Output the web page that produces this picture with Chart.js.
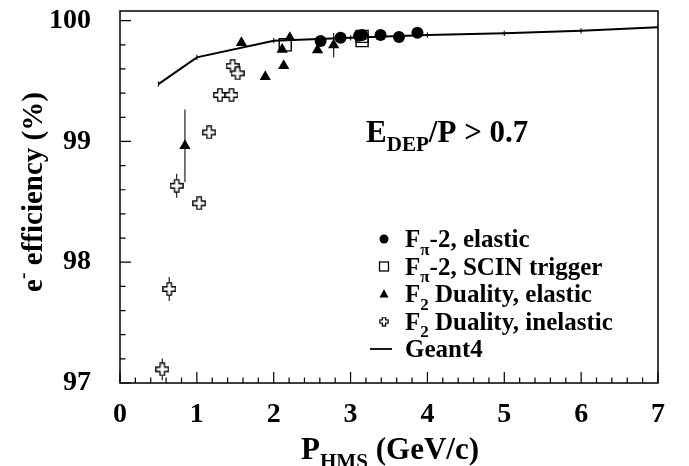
<!DOCTYPE html>
<html>
<head>
<meta charset="utf-8">
<script src="https://cdn.jsdelivr.net/npm/chart.js@4.4.1/dist/chart.umd.min.js"></script>
<style>
  html, body { margin: 0; padding: 0; background: #fff; }
  #wrap { width: 689px; height: 466px; }
</style>
</head>
<body>
<div id="wrap"><canvas id="effChart" width="689" height="466"></canvas></div>
<script>
// axis ticks
const xTicks = [0, 1, 2, 3, 4, 5, 6, 7];
const yTicks = [97, 98, 99, 100];

// Geant4 simulation
const geantP = [0.5, 1, 2, 3, 4, 5, 6, 7];
const geantEff = [99.475, 99.696, 99.834, 99.858, 99.881, 99.895, 99.916, 99.945];
const geantErr = [0.022, 0.022, 0.022, 0.022, 0.022, 0.022, 0.022, 0.022];

// F_pi-2, elastic
const fpiP = [2.61, 2.87, 3.11, 3.15, 3.39, 3.63, 3.87];
const fpiEff = [99.831, 99.858, 99.875, 99.881, 99.881, 99.864, 99.900];

// F_pi-2, SCIN trigger
const scinP = [2.15, 3.15, 3.15];
const scinEff = [99.80, 99.87, 99.835];

// F2 Duality, elastic
const dualElP = [0.845, 1.58, 1.89, 2.11, 2.13, 2.21, 2.57, 2.78];
const dualElEff = [98.964, 99.817, 99.536, 99.762, 99.627, 99.858, 99.757, 99.798];
const dualElErr = [0.30, 0, 0, 0, 0, 0, 0, 0.10];

// F2 Duality, inelastic
const dualInP = [0.55, 0.641, 0.737, 1.03, 1.16, 1.30, 1.45, 1.465, 1.53];
const dualInEff = [97.113, 97.778, 98.633, 98.488, 99.075, 99.384, 99.384, 99.624, 99.564];
const dualInErr = [0.09, 0.10, 0.10, 0, 0, 0, 0, 0, 0];

const legendRows = [
  { mark: 'circle', text: [['F', 'n'], ['\u03c0', 'sub'], ['-2, elastic', 'n']] },
  { mark: 'square', text: [['F', 'n'], ['\u03c0', 'sub'], ['-2, SCIN trigger', 'n']] },
  { mark: 'triangle', text: [['F', 'n'], ['2', 'sub'], [' Duality, elastic', 'n']] },
  { mark: 'cross', text: [['F', 'n'], ['2', 'sub'], [' Duality, inelastic', 'n']] },
  { mark: 'line', text: [['Geant4', 'n']] }
];

const FONT = '"Liberation Serif", "Times New Roman", serif';

function pts(xs, ys) {
  return xs.map((x, i) => ({ x: x, y: ys[i] }));
}

// open cross marker (ROOT style)
function makeCross(size, lw) {
  const c = document.createElement('canvas');
  c.width = c.height = size;
  const g = c.getContext('2d');
  const a = 0.8, b = size * 0.34, d = size * 0.66, e = size - 0.8;
  g.beginPath();
  g.moveTo(b, a); g.lineTo(d, a); g.lineTo(d, b); g.lineTo(e, b);
  g.lineTo(e, d); g.lineTo(d, d); g.lineTo(d, e); g.lineTo(b, e);
  g.lineTo(b, d); g.lineTo(a, d); g.lineTo(a, b); g.lineTo(b, b);
  g.closePath();
  g.fillStyle = '#fff';
  g.fill();
  g.lineWidth = lw;
  g.strokeStyle = '#000';
  g.stroke();
  return c;
}
const crossImg = makeCross(14, 1.3);
const crossSmall = makeCross(10, 1.2);

function drawRich(ctx, x, y, segs, size) {
  let cx = x;
  for (const [t, kind] of segs) {
    const s = kind === 'n' ? size : size * 0.68;
    ctx.font = 'bold ' + s + 'px ' + FONT;
    const dy = kind === 'sub' ? size * 0.3 : (kind === 'sup' ? -size * 0.42 : 0);
    ctx.fillText(t, cx, y + dy);
    cx += ctx.measureText(t).width;
  }
  return cx - x;
}

function richWidth(ctx, segs, size) {
  let w = 0;
  for (const [t, kind] of segs) {
    const s = kind === 'n' ? size : size * 0.68;
    ctx.font = 'bold ' + s + 'px ' + FONT;
    w += ctx.measureText(t).width;
  }
  return w;
}

function legendMarker(ctx, kind, x, y) {
  ctx.fillStyle = '#000';
  ctx.strokeStyle = '#000';
  ctx.lineWidth = 1.3;
  if (kind === 'circle') {
    ctx.beginPath(); ctx.arc(x, y, 4.5, 0, Math.PI * 2); ctx.fill();
  } else if (kind === 'square') {
    ctx.strokeRect(x - 4.5, y - 4.5, 9, 9);
  } else if (kind === 'triangle') {
    ctx.beginPath(); ctx.moveTo(x, y - 5); ctx.lineTo(x + 4.5, y + 3.5); ctx.lineTo(x - 4.5, y + 3.5);
    ctx.closePath(); ctx.fill();
  } else if (kind === 'cross') {
    ctx.drawImage(crossSmall, x - 5, y - 5);
  } else {
    ctx.lineWidth = 1.8;
    ctx.beginPath(); ctx.moveTo(x - 14, y); ctx.lineTo(x + 8, y); ctx.stroke();
  }
}

const errorBars = {
  id: 'errorBars',
  beforeDatasetsDraw(chart) {
    const { ctx, chartArea: a, scales: { x, y } } = chart;
    ctx.save();
    ctx.beginPath(); ctx.rect(a.left, a.top, a.width, a.height); ctx.clip();
    ctx.strokeStyle = '#222';
    ctx.lineWidth = 1.2;
    const sets = [[dualElP, dualElEff, dualElErr], [dualInP, dualInEff, dualInErr], [geantP, geantEff, geantErr]];
    for (const [ps, es, ers] of sets) {
      ps.forEach((p, i) => {
        if (!ers[i]) return;
        const px = x.getPixelForValue(p);
        ctx.beginPath();
        ctx.moveTo(px, y.getPixelForValue(es[i] - ers[i]));
        ctx.lineTo(px, y.getPixelForValue(es[i] + ers[i]));
        ctx.stroke();
      });
    }
    ctx.restore();
  },
  afterDraw(chart) {
    const { ctx, chartArea: a, scales: { x, y } } = chart;
    ctx.save();
    // frame
    ctx.strokeStyle = '#000';
    ctx.lineWidth = 1.5;
    ctx.strokeRect(a.left, a.top, a.width, a.height);
    // inward ticks
    ctx.lineWidth = 1.2;
    ctx.beginPath();
    for (let i = 0; i <= 35; i++) {
      const px = x.getPixelForValue(i * 0.2);
      const len = i % 5 === 0 ? 11 : 5.5;
      ctx.moveTo(px, a.bottom); ctx.lineTo(px, a.bottom - len);
    }
    for (let i = 0; i <= 15; i++) {
      const py = y.getPixelForValue(97 + i * 0.2);
      const len = i % 5 === 0 ? 11 : 5.5;
      ctx.moveTo(a.left, py); ctx.lineTo(a.left + len, py);
    }
    ctx.stroke();

    ctx.fillStyle = '#000';
    ctx.textBaseline = 'alphabetic';
    ctx.textAlign = 'left';

    // cut annotation
    drawRich(ctx, 366, 142, [['E', 'n'], ['DEP', 'sub'], ['/P > 0.7', 'n']], 31);

    // x title
    const xt = [['P', 'n'], ['HMS', 'sub'], [' (GeV/c)', 'n']];
    const xw = richWidth(ctx, xt, 31);
    drawRich(ctx, 390 - xw / 2, 459, xt, 31);

    // y title
    const yt = [['e', 'n'], ['-', 'sup'], [' efficiency (%)', 'n']];
    const yw = richWidth(ctx, yt, 29);
    ctx.save();
    ctx.translate(41.5, 192);
    ctx.rotate(-Math.PI / 2);
    drawRich(ctx, -yw / 2, 0, yt, 29);
    ctx.restore();

    // legend
    legendRows.forEach((row, i) => {
      const base = 247 + i * 27.5;
      legendMarker(ctx, row.mark, 384, base - 8);
      ctx.fillStyle = '#000';
      drawRich(ctx, 405, base, row.text, 25);
    });
    ctx.restore();
  }
};

const ctx = document.getElementById('effChart').getContext('2d');

const effChart = new Chart(ctx, {
  type: 'scatter',
  data: {
    datasets: [
      {
        label: 'Geant4',
        type: 'line',
        data: pts(geantP, geantEff),
        borderColor: '#000',
        borderWidth: 2,
        pointRadius: 0,
        tension: 0,
        fill: false,
        order: 5
      },
      {
        label: 'Fpi-2, elastic',
        data: pts(fpiP, fpiEff),
        pointStyle: 'circle',
        pointRadius: 6,
        backgroundColor: '#000',
        borderColor: '#000',
        borderWidth: 0,
        order: 1
      },
      {
        label: 'Fpi-2, SCIN trigger',
        data: pts(scinP, scinEff),
        pointStyle: 'rect',
        pointRadius: 8.5,
        backgroundColor: 'rgba(0,0,0,0)',
        borderColor: '#000',
        borderWidth: 1.4,
        order: 2
      },
      {
        label: 'F2 Duality, elastic',
        data: pts(dualElP, dualElEff),
        pointStyle: 'triangle',
        pointRadius: 6.5,
        backgroundColor: '#000',
        borderColor: '#000',
        borderWidth: 0,
        order: 3
      },
      {
        label: 'F2 Duality, inelastic',
        data: pts(dualInP, dualInEff),
        pointStyle: crossImg,
        pointRadius: 7,
        order: 4
      }
    ]
  },
  options: {
    responsive: false,
    animation: false,
    events: [],
    devicePixelRatio: 1,
    layout: { padding: { top: 11, right: 31, bottom: 0, left: 0 } },
    plugins: {
      legend: { display: false },
      tooltip: { enabled: false }
    },
    scales: {
      x: {
        type: 'linear',
        min: 0,
        max: 7,
        afterBuildTicks: (s) => { s.ticks = xTicks.map(v => ({ value: v })); },
        afterFit: (s) => { s.height = 83; s.paddingLeft = 0; s.paddingRight = 0; },
        grid: { display: false, drawTicks: false },
        border: { display: false },
        ticks: {
          padding: 15,
          color: '#000',
          maxRotation: 0,
          font: { family: FONT, size: 28, weight: 'bold' }
        }
      },
      y: {
        min: 97,
        max: 100.08,
        afterBuildTicks: (s) => { s.ticks = yTicks.map(v => ({ value: v })); },
        afterFit: (s) => { s.width = 120; s.paddingTop = 0; s.paddingBottom = 0; },
        grid: { display: false, drawTicks: false },
        border: { display: false },
        ticks: {
          padding: 29,
          color: '#000',
          font: { family: FONT, size: 28, weight: 'bold' }
        }
      }
    }
  },
  plugins: [errorBars]
});
</script>
</body>
</html>
